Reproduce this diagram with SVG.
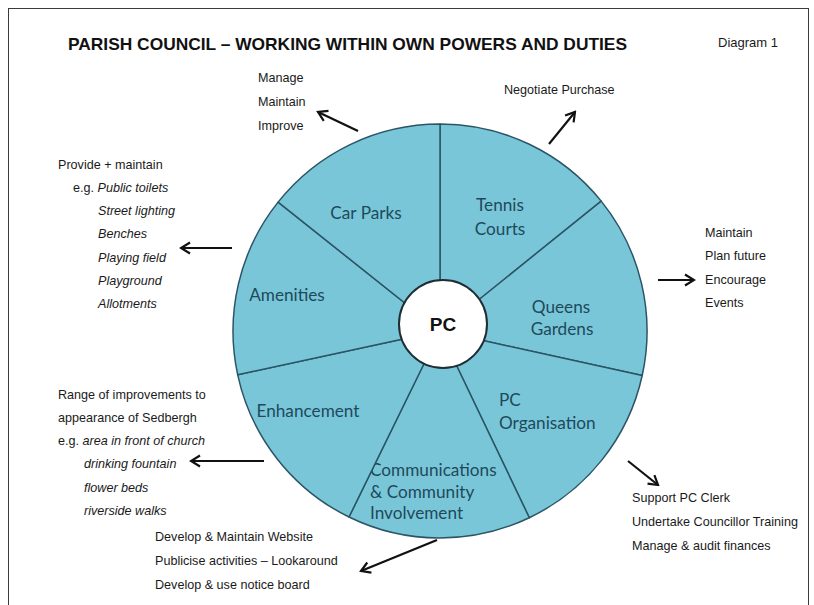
<svg xmlns="http://www.w3.org/2000/svg" width="814" height="605" viewBox="0 0 814 605">
<style>
.bg{fill:#ffffff}
.frame{fill:none;stroke:#3a3a3a;stroke-width:1}
.seg{fill:#7ac6d9;stroke:#2b5566;stroke-width:1.5;stroke-linejoin:round}
.hub{fill:#ffffff;stroke:#1e2e34;stroke-width:2}
.lbl{font-family:Lato,"Open Sans",sans-serif;font-size:17.2px;fill:#1d4a5b}
.hubt{font-family:"Liberation Sans",Arial,sans-serif;font-size:19px;font-weight:bold;fill:#111111}
.t{font-family:"Liberation Sans",Arial,sans-serif;font-size:12.6px;fill:#1a1a1a}
.i{font-style:italic}
.title{font-family:"Liberation Sans",Arial,sans-serif;font-size:17px;font-weight:bold;fill:#111111}
.arr{fill:none;stroke:#111111;stroke-width:2.2;marker-end:url(#ah)}
</style>
<defs>
<marker id="ah" markerUnits="userSpaceOnUse" markerWidth="14" markerHeight="14" viewBox="0 0 14 14" refX="12" refY="7" orient="auto">
<path d="M3,1.5 L12,7 L3,12.5" fill="none" stroke="#111111" stroke-width="2.2" stroke-linejoin="miter"/>
</marker>
</defs>
<rect class="bg" x="0" y="0" width="814" height="605"/>
<rect class="frame" x="8.5" y="8.5" width="800" height="610"/>

<g id="title">
<text class="title" x="68" y="50" textLength="559" lengthAdjust="spacingAndGlyphs">PARISH COUNCIL – WORKING WITHIN OWN POWERS AND DUTIES</text>
<text class="t" x="718" y="47" font-size="11" textLength="60" lengthAdjust="spacingAndGlyphs">Diagram 1</text>
</g>

<g id="tennis-courts">
<path class="seg" d="M440,331 L440,124 A207,207 0 0 1 601.2,201.1 Z"/>
<text class="lbl" x="500" y="211" text-anchor="middle">Tennis</text>
<text class="lbl" x="500" y="235" text-anchor="middle">Courts</text>
</g>
<g id="queens-gardens">
<path class="seg" d="M440,331 L601.2,201.1 A207,207 0 0 1 642.2,375.5 Z"/>
<text class="lbl" x="561" y="313" text-anchor="middle">Queens</text>
<text class="lbl" x="562" y="335" text-anchor="middle">Gardens</text>
</g>
<g id="pc-organisation">
<path class="seg" d="M440,331 L642.2,375.5 A207,207 0 0 1 529.3,517.7 Z"/>
<text class="lbl" x="499" y="406">PC</text>
<text class="lbl" x="499" y="429">Organisation</text>
</g>
<g id="communications">
<path class="seg" d="M440,331 L529.3,517.7 A207,207 0 0 1 349,517 Z"/>
<text class="lbl" x="370" y="476">Communications</text>
<text class="lbl" x="370" y="498">&amp; Community</text>
<text class="lbl" x="370" y="519">Involvement</text>
</g>
<g id="enhancement">
<path class="seg" d="M440,331 L349,517 A207,207 0 0 1 237.7,374.8 Z"/>
<text class="lbl" x="308" y="417" text-anchor="middle">Enhancement</text>
</g>
<g id="amenities">
<path class="seg" d="M440,331 L237.7,374.8 A207,207 0 0 1 278.1,202.1 Z"/>
<text class="lbl" x="287" y="301" text-anchor="middle">Amenities</text>
</g>
<g id="car-parks">
<path class="seg" d="M440,331 L278.1,202.1 A207,207 0 0 1 440,124 Z"/>
<text class="lbl" x="366" y="219" text-anchor="middle">Car Parks</text>
</g>
<g id="pc">
<circle class="hub" cx="443" cy="324" r="44"/>
<text class="hubt" x="443" y="331" text-anchor="middle">PC</text>
</g>

<g id="connectors">
<line class="arr" x1="358" y1="131" x2="318" y2="112"/>
<line class="arr" x1="549" y1="144" x2="575" y2="112"/>
<line class="arr" x1="232" y1="248" x2="181" y2="248"/>
<line class="arr" x1="658" y1="280" x2="694" y2="280"/>
<line class="arr" x1="628" y1="461" x2="658" y2="485"/>
<line class="arr" x1="437" y1="540" x2="361" y2="571"/>
<line class="arr" x1="264" y1="461" x2="191" y2="461"/>
</g>

<g id="car-parks-notes">
<text class="t" x="258" y="82">Manage</text>
<text class="t" x="258" y="106">Maintain</text>
<text class="t" x="258" y="130">Improve</text>
</g>
<g id="tennis-notes">
<text class="t" x="504" y="94">Negotiate Purchase</text>
</g>
<g id="amenities-notes">
<text class="t" x="58" y="169">Provide + maintain</text>
<text class="t" x="73" y="192">e.g. <tspan class="i">Public toilets</tspan></text>
<text class="t i" x="98" y="215">Street lighting</text>
<text class="t i" x="98" y="238">Benches</text>
<text class="t i" x="98" y="262">Playing field</text>
<text class="t i" x="98" y="285">Playground</text>
<text class="t i" x="98" y="308">Allotments</text>
</g>
<g id="queens-notes">
<text class="t" x="705" y="237">Maintain</text>
<text class="t" x="705" y="260">Plan future</text>
<text class="t" x="705" y="284">Encourage</text>
<text class="t" x="705" y="307">Events</text>
</g>
<g id="enhancement-notes">
<text class="t" x="58" y="399">Range of improvements to</text>
<text class="t" x="58" y="422">appearance of Sedbergh</text>
<text class="t" x="58" y="445">e.g. <tspan class="i">area in front of church</tspan></text>
<text class="t i" x="84" y="468">drinking fountain</text>
<text class="t i" x="84" y="492">flower beds</text>
<text class="t i" x="84" y="515">riverside walks</text>
</g>
<g id="communications-notes">
<text class="t" x="155" y="541">Develop &amp; Maintain Website</text>
<text class="t" x="155" y="565">Publicise activities – Lookaround</text>
<text class="t" x="155" y="589">Develop &amp; use notice board</text>
</g>
<g id="organisation-notes">
<text class="t" x="632" y="502">Support PC Clerk</text>
<text class="t" x="632" y="526">Undertake Councillor Training</text>
<text class="t" x="632" y="550">Manage &amp; audit finances</text>
</g>
</svg>
